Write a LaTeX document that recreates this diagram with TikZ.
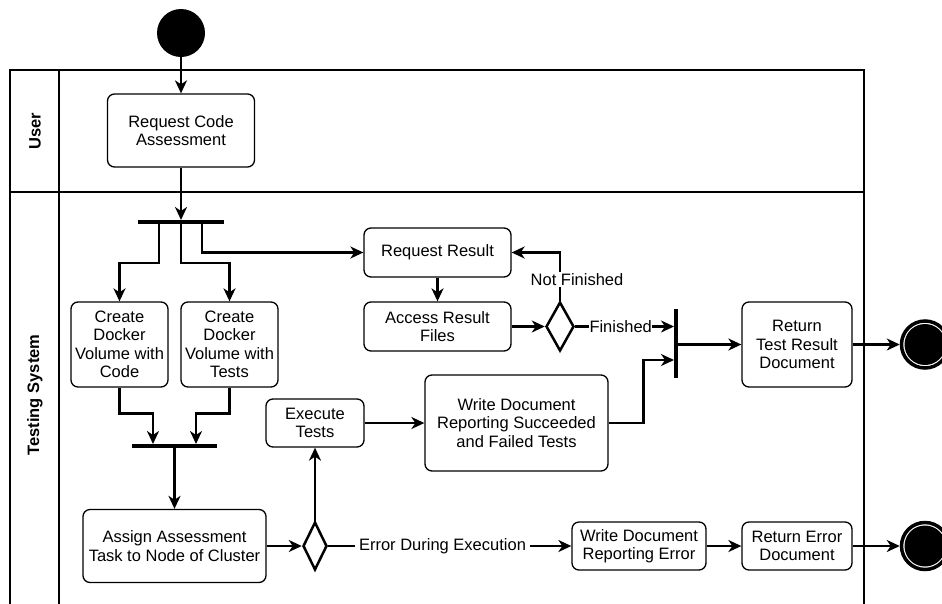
\documentclass[tikz,border=0pt]{standalone}
\usepackage{fontspec}
\setmainfont{Liberation Sans}
\usetikzlibrary{arrows.meta,shapes.geometric,calc}
\begin{document}
\begin{tikzpicture}[x=1pt,y=-1pt,
  every node/.style={font=\fontsize{16.5}{18.5}\selectfont},
  box/.style={draw, rounded corners=7pt, line width=1.3pt, align=center, inner sep=0pt},
  ar/.style={line width=2.5pt, -{Stealth[length=13pt,width=12pt,inset=4pt]}},
  pool/.style={line width=1.3pt},
  barnode/.style={rectangle, fill=black, inner sep=0pt, outer sep=0pt},
  decision/.style={diamond, draw, line width=2.5pt, inner sep=0pt, fill=white},
  lbl/.style={fill=white, inner sep=1pt},
  lanelabel/.style={rotate=90, font=\fontsize{16.5}{18.5}\selectfont\bfseries},
  endnode/.style={circle, draw, line width=3.5pt, fill=white, minimum size=47pt, inner sep=0pt}
]
\useasboundingbox (0,0) rectangle (942,603);
\clip (0,0) rectangle (942,603);

% pool and lanes
\draw[pool] (10,610) -- (10,70) -- (864,70) -- (864,610);
\draw[pool] (59,70) -- (59,610);
\draw[pool] (10,192) -- (864,192);
\node[lanelabel] (laneuser) at (35,131) {User};
\node[lanelabel] (lanetest) at (35,395) {Testing System};

% start
\node[circle, fill=black, minimum size=48pt, inner sep=0pt] (start) at (181,33) {};

% activities
\node[box, minimum width=147pt, minimum height=73pt] (rca) at (181,130.5) {Request Code\\Assessment};
\node[box, minimum width=97pt, minimum height=85pt] (cdv1) at (119.5,344.5) {Create\\Docker\\Volume with\\Code};
\node[box, minimum width=97pt, minimum height=85pt] (cdv2) at (229.5,344.5) {Create\\Docker\\Volume with\\Tests};
\node[box, minimum width=183pt, minimum height=73pt] (assign) at (174.5,546) {Assign Assessment\\Task to Node of Cluster};
\node[box, minimum width=98pt, minimum height=48pt] (exec) at (315,423) {Execute\\Tests};
\node[box, minimum width=183pt, minimum height=96pt] (wds) at (516.5,423) {Write Document\\Reporting Succeeded\\and Failed Tests};
\node[box, minimum width=147pt, minimum height=49pt] (rr) at (437.5,252.5) {Request Result};
\node[box, minimum width=147pt, minimum height=49pt] (arf) at (437.5,326.5) {Access Result\\Files};
\node[box, minimum width=110pt, minimum height=85pt] (rtrd) at (797,344.5) {Return\\Test Result\\Document};
\node[box, minimum width=134pt, minimum height=48pt] (wde) at (639,546) {Write Document\\Reporting Error};
\node[box, minimum width=110pt, minimum height=48pt] (red) at (797,546) {Return Error\\Document};

% bars
\node[barnode, minimum width=86pt, minimum height=4pt] (fork) at (181,222) {};
\node[barnode, minimum width=85pt, minimum height=4pt] (join) at (174.5,446) {};
\node[barnode, minimum width=4pt, minimum height=69pt] (sync) at (676,343.5) {};

% decisions
\node[decision, minimum width=24pt, minimum height=48pt] (d1) at (315,546) {};
\node[decision, minimum width=28pt, minimum height=49pt] (d2) at (560,326.5) {};

% end nodes
\node[endnode] (end1) at (925,344.5) {};
\fill (end1.center) circle[radius=20.5pt];
\node[endnode] (end2) at (925,546) {};
\fill (end2.center) circle[radius=20.5pt];

% connectors
\draw[ar] (start) -- (rca);
\draw[ar] (rca) -- (fork);
\draw[ar] ([xshift=-22pt]fork.south) -- ++(0,39) -| (cdv1.north);
\draw[ar] (fork.south) -- ++(0,39) -| (cdv2.north);
\draw[ar] ([xshift=21pt]fork.south) |- (rr.west);
\draw[ar] (cdv1.south) -- ++(0,26) -| ([xshift=-21.5pt]join.north);
\draw[ar] (cdv2.south) -- ++(0,26) -| ([xshift=21.5pt]join.north);
\draw[ar] (join) -- (assign);
\draw[ar] (assign) -- (d1);
\draw[ar] (d1) -- (exec);
\draw[ar] (d1) -- node[lbl, inner sep=4pt, pos=0.47] (lblerr) {Error During Execution} (wde);
\draw[ar] (wde) -- (red);
\draw[ar] (red) -- (end2);
\draw[ar] (exec) -- (wds);
\draw[ar] (wds.east) -- ++(35,0) |- ([yshift=-16.5pt]sync.west);
\draw[ar] (rr) -- (arf);
\draw[ar] (arf) -- (d2);
\draw[ar] (d2.north) |- (rr.east) node[lbl, pos=0.22, xshift=17pt] (lblnf) {Not Finished};
\draw[ar] (d2.east) -- node[lbl, inner sep=0.5pt, pos=0.46] (lblf) {Finished} (d2.east -| sync.west);
\draw[ar] (sync.east |- rtrd.west) -- (rtrd.west);
\draw[ar] (rtrd) -- (end1);
\end{tikzpicture}
\end{document}
